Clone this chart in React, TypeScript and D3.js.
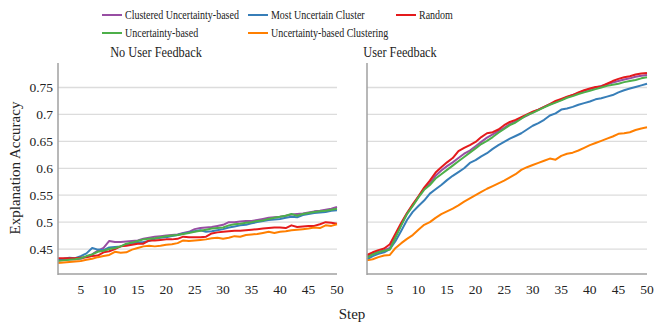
import React from 'react';
import * as d3 from 'd3';

// data
const steps = d3.range(1, 51);
const seriesNames = [
  'Clustered Uncertainty-based',
  'Most Uncertain Cluster',
  'Random',
  'Uncertainty-based',
  'Uncertainty-based Clustering',
];
const colors = ['#984ea3', '#377eb8', '#e41a1c', '#4daf4a', '#ff7f00'];
const yTicks = [0.45, 0.5, 0.55, 0.6, 0.65, 0.7, 0.75];
const xTicks = [5, 10, 15, 20, 25, 30, 35, 40, 45, 50];
const panelTitles = ['No User Feedback', 'User Feedback'];

// No User Feedback
const noFbClustered = [
  0.430, 0.430, 0.431, 0.431, 0.432, 0.436, 0.440, 0.447, 0.452, 0.465,
  0.463, 0.463, 0.464, 0.465, 0.466, 0.469, 0.471, 0.473, 0.474, 0.475,
  0.476, 0.477, 0.480, 0.482, 0.487, 0.489, 0.490, 0.491, 0.493, 0.495,
  0.500, 0.500, 0.501, 0.502, 0.502, 0.504, 0.506, 0.508, 0.509, 0.510,
  0.512, 0.514, 0.515, 0.516, 0.518, 0.520, 0.521, 0.523, 0.525, 0.528,
];
const noFbMostUncertain = [
  0.431, 0.432, 0.434, 0.433, 0.437, 0.442, 0.452, 0.449, 0.448, 0.453,
  0.454, 0.455, 0.458, 0.460, 0.462, 0.463, 0.465, 0.469, 0.471, 0.472,
  0.474, 0.476, 0.479, 0.481, 0.483, 0.485, 0.482, 0.483, 0.485, 0.487,
  0.490, 0.492, 0.494, 0.495, 0.498, 0.500, 0.502, 0.504, 0.505, 0.506,
  0.508, 0.510, 0.509, 0.513, 0.515, 0.517, 0.518, 0.519, 0.521, 0.522,
];
const noFbRandom = [
  0.433, 0.433, 0.433, 0.433, 0.434, 0.435, 0.437, 0.438, 0.444, 0.446,
  0.450, 0.455, 0.456, 0.458, 0.460, 0.460, 0.466, 0.466, 0.467, 0.468,
  0.468, 0.469, 0.473, 0.472, 0.472, 0.472, 0.473, 0.479, 0.481, 0.482,
  0.483, 0.484, 0.484, 0.485, 0.486, 0.487, 0.488, 0.489, 0.490, 0.490,
  0.489, 0.494, 0.491, 0.492, 0.493, 0.493, 0.496, 0.500, 0.499, 0.497,
];
const noFbUncertainty = [
  0.428, 0.429, 0.430, 0.431, 0.433, 0.437, 0.440, 0.445, 0.447, 0.450,
  0.452, 0.455, 0.460, 0.462, 0.465, 0.468, 0.469, 0.470, 0.472, 0.474,
  0.475, 0.476, 0.478, 0.480, 0.482, 0.484, 0.486, 0.488, 0.489, 0.490,
  0.494, 0.496, 0.497, 0.499, 0.500, 0.502, 0.503, 0.506, 0.508, 0.510,
  0.512, 0.515, 0.512, 0.515, 0.517, 0.519, 0.520, 0.521, 0.523, 0.525,
];
const noFbUncClustering = [
  0.424, 0.425, 0.426, 0.427, 0.428, 0.430, 0.432, 0.435, 0.437, 0.439,
  0.445, 0.443, 0.444, 0.449, 0.452, 0.455, 0.456, 0.455, 0.456, 0.458,
  0.459, 0.461, 0.466, 0.465, 0.466, 0.467, 0.468, 0.470, 0.471, 0.469,
  0.471, 0.474, 0.473, 0.476, 0.477, 0.478, 0.480, 0.482, 0.480, 0.482,
  0.483, 0.485, 0.486, 0.487, 0.488, 0.490, 0.489, 0.494, 0.493, 0.496,
];

// User Feedback
const fbClustered = [
  0.436, 0.441, 0.445, 0.448, 0.452, 0.474, 0.496, 0.516, 0.531, 0.547,
  0.562, 0.572, 0.586, 0.596, 0.604, 0.611, 0.619, 0.627, 0.633, 0.641,
  0.649, 0.657, 0.663, 0.669, 0.675, 0.682, 0.687, 0.693, 0.698, 0.704,
  0.709, 0.714, 0.719, 0.723, 0.727, 0.732, 0.736, 0.740, 0.744, 0.747,
  0.750, 0.753, 0.756, 0.759, 0.762, 0.765, 0.767, 0.770, 0.772, 0.773,
];
const fbMostUncertain = [
  0.431, 0.437, 0.441, 0.444, 0.450, 0.465, 0.484, 0.504, 0.519, 0.530,
  0.540, 0.553, 0.561, 0.569, 0.578, 0.586, 0.593, 0.600, 0.610, 0.615,
  0.622, 0.628, 0.636, 0.643, 0.649, 0.655, 0.660, 0.665, 0.672, 0.679,
  0.684, 0.690, 0.698, 0.702, 0.709, 0.711, 0.714, 0.718, 0.721, 0.724,
  0.728, 0.730, 0.733, 0.736, 0.741, 0.745, 0.748, 0.751, 0.754, 0.757,
];
const fbRandom = [
  0.439, 0.444, 0.448, 0.451, 0.459, 0.479, 0.499, 0.517, 0.533, 0.548,
  0.564, 0.577, 0.592, 0.602, 0.611, 0.619, 0.632, 0.638, 0.643, 0.649,
  0.658, 0.665, 0.667, 0.672, 0.680, 0.686, 0.690, 0.695, 0.700, 0.705,
  0.709, 0.714, 0.719, 0.725, 0.729, 0.733, 0.736, 0.741, 0.745, 0.748,
  0.751, 0.752, 0.757, 0.762, 0.766, 0.769, 0.771, 0.774, 0.776, 0.777,
];
const fbUncertainty = [
  0.434, 0.440, 0.444, 0.447, 0.449, 0.472, 0.494, 0.515, 0.530, 0.546,
  0.560, 0.569, 0.581, 0.589, 0.597, 0.605, 0.613, 0.621, 0.629, 0.637,
  0.645, 0.651, 0.658, 0.666, 0.673, 0.680, 0.685, 0.692, 0.699, 0.703,
  0.708, 0.713, 0.718, 0.722, 0.726, 0.731, 0.734, 0.738, 0.741, 0.744,
  0.747, 0.750, 0.753, 0.755, 0.757, 0.760, 0.762, 0.764, 0.767, 0.769,
];
const fbUncClustering = [
  0.429, 0.431, 0.435, 0.438, 0.439, 0.452, 0.461, 0.469, 0.476, 0.486,
  0.495, 0.500, 0.508, 0.515, 0.520, 0.525, 0.531, 0.538, 0.544, 0.550,
  0.556, 0.562, 0.567, 0.572, 0.577, 0.583, 0.589, 0.597, 0.602, 0.606,
  0.610, 0.614, 0.618, 0.616, 0.623, 0.627, 0.629, 0.633, 0.638, 0.643,
  0.647, 0.651, 0.655, 0.659, 0.664, 0.665, 0.667, 0.671, 0.674, 0.676,
];

const panels = [
  [noFbClustered, noFbMostUncertain, noFbRandom, noFbUncertainty, noFbUncClustering],
  [fbClustered, fbMostUncertain, fbRandom, fbUncertainty, fbUncClustering],
];

const FONT = '"Liberation Serif", "Times New Roman", serif';
const W = 664;
const H = 332;
const top = 63;
const bottom = 274;
const panelX = [
  [58, 337],
  [367, 647],
];
const titleX = [156, 400];

export default function App() {
  const y = d3.scaleLinear().domain([0.4037, 0.7955]).range([bottom, top]);

  const legendItems = [
    { i: 0, x: 102, y: 15 },
    { i: 1, x: 248, y: 15 },
    { i: 2, x: 396, y: 15 },
    { i: 3, x: 102, y: 33 },
    { i: 4, x: 248, y: 33 },
  ];

  return (
    <svg
      width={W}
      height={H}
      style={{ position: 'absolute', left: 0, top: 0, background: '#fff' }}
      fontFamily={FONT}
    >
      {/* legend */}
      {legendItems.map((d) => (
        <g key={d.i}>
          <line x1={d.x} x2={d.x + 20} y1={d.y} y2={d.y} stroke={colors[d.i]} strokeWidth={2} />
          <text
            transform={`translate(${d.x + 23},${d.y + 4}) scale(0.8,1)`}
            fontSize={12.5}
            fill='#222'
          >
            {seriesNames[d.i]}
          </text>
        </g>
      ))}

      {panels.map((series, p) => {
        const x = d3.scaleLinear().domain([1, 50]).range(panelX[p]);
        const line = d3
          .line<number>()
          .x((_, i) => x(steps[i]))
          .y((v) => y(v));
        return (
          <g key={p}>
            <text
              transform={`translate(${titleX[p]},57) scale(0.88,1)`}
              textAnchor='middle'
              fontSize={14}
              fill='#222'
            >
              {panelTitles[p]}
            </text>
            {yTicks.map((t) => (
              <line
                key={t}
                x1={panelX[p][0]}
                x2={panelX[p][1]}
                y1={y(t)}
                y2={y(t)}
                stroke='#dcdcdc'
                strokeWidth={1.3}
              />
            ))}
            {series.map((vals, s) => (
              <path
                key={s}
                d={line(vals) || ''}
                fill='none'
                stroke={colors[s]}
                strokeWidth={2}
                strokeLinejoin='round'
              />
            ))}
            <line x1={panelX[p][0]} x2={panelX[p][0]} y1={top} y2={bottom + 1} stroke='#a0a0a0' strokeWidth={1.5} />
            <line x1={panelX[p][0]} x2={panelX[p][1]} y1={bottom} y2={bottom} stroke='#a0a0a0' strokeWidth={1.5} />
            {xTicks.map((t) => (
              <text key={t} x={x(t)} y={294} textAnchor='middle' fontSize={13.5} fill='#222'>
                {t}
              </text>
            ))}
            {p === 0 &&
              yTicks.map((t) => (
                <text key={t} x={53} y={y(t) + 4.5} textAnchor='end' fontSize={13.5} fill='#222'>
                  {t}
                </text>
              ))}
          </g>
        );
      })}

      <text x={352} y={319} textAnchor='middle' fontSize={15} fill='#222'>
        Step
      </text>
      <text
        transform='translate(20,168) rotate(-90)'
        textAnchor='middle'
        fontSize={15}
        fill='#222'
      >
        Explanation Accuracy
      </text>
    </svg>
  );
}
